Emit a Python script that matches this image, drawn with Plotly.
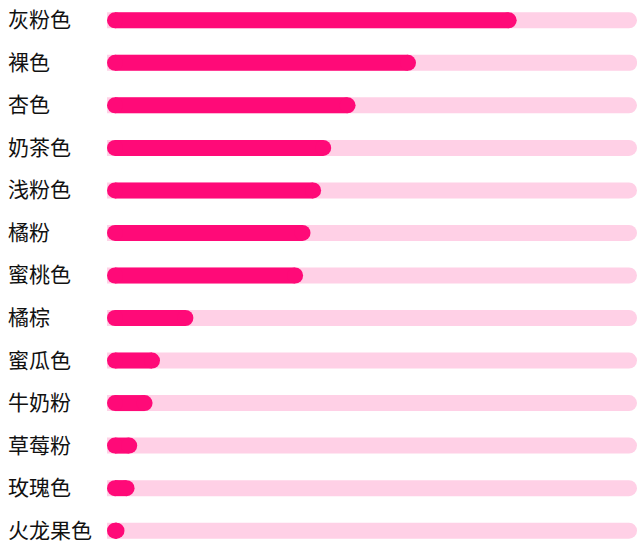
import plotly.graph_objects as go

categories = ["灰粉色", "裸色", "杏色", "奶茶色", "浅粉色", "橘粉", "蜜桃色",
              "橘棕", "蜜瓜色", "牛奶粉", "草莓粉", "玫瑰色", "火龙果色"]
values = [77.3, 58.3, 46.9, 42.3, 40.4, 38.4, 37.0, 16.3, 10.0, 8.6, 5.7, 5.2, 3.3]
max_value = 100

FG = "#ff0a78"
BG = "#ffd0e6"

W, H = 637, 541
M_LEFT = 107
BAR_PX = 16
bar_w = BAR_PX / 42.53          # bar thickness in category units
cap = (BAR_PX / 2) * max_value / (W - M_LEFT)   # half bar thickness in x units

fig = go.Figure()

# background track: only the far (right) end is rounded
fig.add_trace(go.Bar(
    y=categories, x=[max_value] * len(categories),
    orientation="h", width=bar_w,
    marker=dict(color=BG, cornerradius="50%", line=dict(width=0)),
    hoverinfo="skip",
))

# foreground: straight body + round caps on both ends
fig.add_trace(go.Bar(
    y=categories, x=[max(v - 2 * cap, 0) for v in values], base=cap,
    orientation="h", width=bar_w,
    marker=dict(color=FG, line=dict(width=0)),
    hoverinfo="skip",
))
fig.add_trace(go.Scatter(
    y=categories + categories,
    x=[cap] * len(values) + [max(v - cap, cap) for v in values],
    mode="markers",
    marker=dict(size=BAR_PX, color=FG, line=dict(width=0)),
    customdata=values + values,
    hovertemplate="%{y}: %{customdata}<extra></extra>",
))

# category labels, left aligned
for c in categories:
    fig.add_annotation(
        x=0, xref="paper", xanchor="left", xshift=-101,
        y=c, yref="y", yanchor="middle", yshift=2,
        text=c, showarrow=False,
        font=dict(size=21, color="#111111", family="Noto Sans CJK SC"),
    )

fig.update_layout(
    width=W, height=H,
    barmode="overlay",
    showlegend=False,
    plot_bgcolor="white",
    paper_bgcolor="white",
    margin=dict(l=M_LEFT, r=0, t=0, b=0),
    xaxis=dict(range=[0, max_value], showgrid=False, zeroline=False,
               showticklabels=False, fixedrange=True),
    yaxis=dict(type="category", categoryarray=categories, range=[12.243, -0.477],
               showgrid=False, zeroline=False, showticklabels=False, fixedrange=True),
)

fig.write_html("out.html", config={"displayModeBar": False},
               post_script="document.body.style.margin='0';")
